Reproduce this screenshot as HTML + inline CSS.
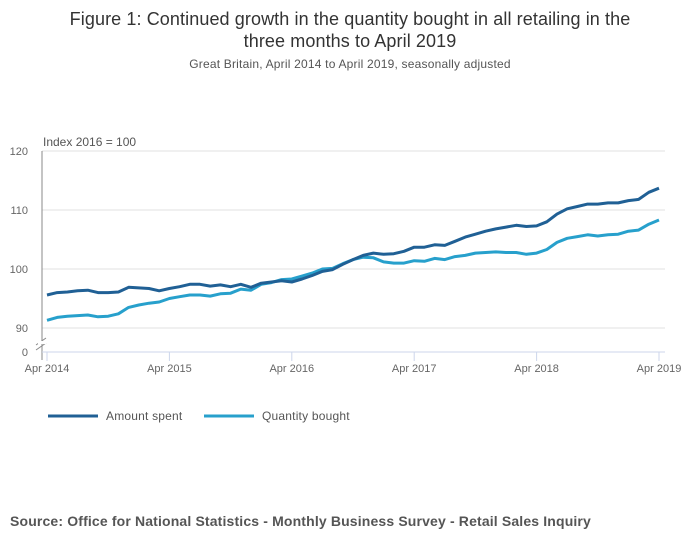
<!DOCTYPE html>
<html><head><meta charset="utf-8"><style>
body{margin:0;background:#fff;font-family:"Liberation Sans",sans-serif;}
#wrap{position:relative;width:700px;height:549px;overflow:hidden;}
.t{position:absolute;left:0;width:700px;text-align:center;color:#333;}
</style></head><body>
<div id="wrap">
<div class="t" style="top:8px;font-size:18px;line-height:22px;letter-spacing:0.1px;">Figure 1: Continued growth in the quantity bought in all retailing in the<br>three months to April 2019</div>
<div class="t" style="top:57px;font-size:12px;color:#555;letter-spacing:0.2px;">Great Britain, April 2014 to April 2019, seasonally adjusted</div>
<svg id="chart" width="700" height="549" style="position:absolute;left:0;top:0"></svg>
<div style="position:absolute;left:10px;top:513px;font-size:14px;font-weight:bold;color:#555;letter-spacing:0.15px;">Source: Office for National Statistics - Monthly Business Survey - Retail Sales Inquiry</div>
</div>
<script>
const xLabels=["Apr 2014","Apr 2015","Apr 2016","Apr 2017","Apr 2018","Apr 2019"];
const yTicks=[90,100,110,120];
const amountSpent=[95.6,96.0,96.1,96.3,96.4,96.0,96.0,96.1,96.9,96.8,96.7,96.3,
96.7,97.0,97.4,97.4,97.1,97.3,97.0,97.4,96.9,97.6,97.8,98.0,
97.8,98.3,98.9,99.6,99.9,100.8,101.6,102.3,102.7,102.5,102.6,103.0,
103.7,103.7,104.1,104.0,104.7,105.4,105.9,106.4,106.8,107.1,107.4,107.2,
107.3,108.0,109.3,110.2,110.6,111.0,111.0,111.2,111.2,111.6,111.8,113.0,113.7];
const quantityBought=[91.3,91.8,92.0,92.1,92.2,91.9,92.0,92.4,93.5,93.9,94.2,94.4,
95.0,95.3,95.6,95.6,95.4,95.8,95.9,96.6,96.4,97.4,97.7,98.2,
98.3,98.8,99.3,100.0,100.1,100.9,101.6,102.0,101.9,101.2,101.0,101.0,
101.4,101.3,101.8,101.6,102.1,102.3,102.7,102.8,102.9,102.8,102.8,102.5,
102.7,103.3,104.5,105.2,105.5,105.8,105.6,105.8,105.9,106.4,106.6,107.6,108.3];
const svg=document.getElementById('chart');const NS='http://www.w3.org/2000/svg';
function x(i){return 47+i*(659-47)/60;}
function y(v){return 269-(v-100)*5.9;}
function mk(t,a,p){const e=document.createElementNS(NS,t);for(const k in a)e.setAttribute(k,a[k]);(p||svg).appendChild(e);return e;}
let e;
yTicks.forEach(v=>{
e=mk('line',{x1:42,x2:665,y1:y(v),y2:y(v),stroke:'#e0e0e0','stroke-width':1});


e=mk('text',{x:28,y:y(v)+4,'font-size':11,fill:'#666','text-anchor':'end'});e.textContent=v;


});
e=mk('line',{x1:42,x2:665,y1:352,y2:352,stroke:'#e0e0e0'});
e=mk('text',{x:28,y:356,'font-size':11,fill:'#666','text-anchor':'end'});e.textContent='0';


e=mk('line',{x1:42,x2:42,y1:151,y2:360,stroke:'#888'});


mk('line',{x1:36,x2:46,y1:345,y2:338,stroke:'#888'});mk('line',{x1:36,x2:46,y1:350,y2:343,stroke:'#888'});
mk('rect',{x:38,y:341,width:8,height:3,fill:'#fff'});
e=mk('line',{x1:42,x2:665,y1:352,y2:352,stroke:'#ccd6eb'});


xLabels.forEach((l,k)=>{const xx=x(k*12);
mk('line',{x1:xx,x2:xx,y1:352,y2:361,stroke:'#ccd6eb'});
e=mk('text',{x:xx,y:372,'font-size':11,fill:'#666','text-anchor':'middle'});e.textContent=l;


});
e=mk('text',{x:43,y:146,'font-size':12,fill:'#555'});e.textContent='Index 2016 = 100';


function line(d,c,n){e=mk('path',{d:d.map((v,i)=>(i?'L':'M')+x(i).toFixed(1)+','+y(v).toFixed(1)).join(''),fill:'none',stroke:c,'stroke-width':3,'stroke-linejoin':'round'});

}
line(quantityBought,'#27a0cc','quantity-bought-line');
line(amountSpent,'#206095','amount-spent-line');
function leg(x0,c,t,n){const g=mk('g',{});


mk('line',{x1:x0,x2:x0+50,y1:416,y2:416,stroke:c,'stroke-width':3},g);
const tx=mk('text',{x:x0+58,y:420,'font-size':12,fill:'#555','letter-spacing':0.2},g);tx.textContent=t;}
leg(48,'#206095','Amount spent','legend-amount-spent');
leg(204,'#27a0cc','Quantity bought','legend-quantity-bought');
</script>
</body></html>
